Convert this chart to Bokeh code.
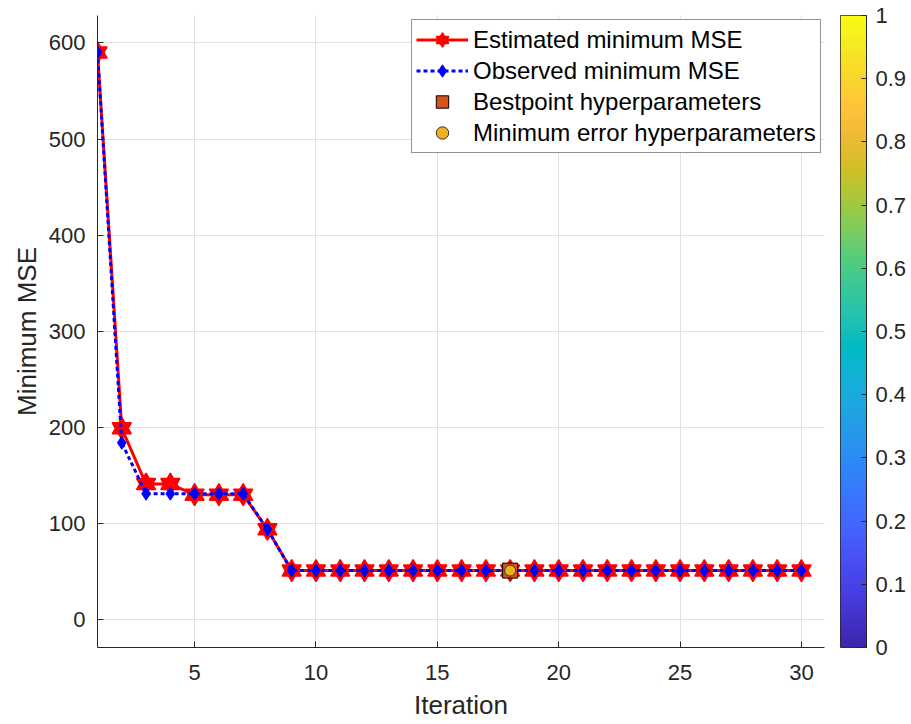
import numpy as np
from bokeh.plotting import figure
from bokeh.layouts import row
from bokeh.models import Range1d, FixedTicker, Legend, LegendItem, LinearColorMapper
from bokeh.embed import file_html
from bokeh.resources import INLINE

# ---------------- data ----------------
iteration = [1, 2, 3, 4, 5, 6, 7, 8, 9, 10, 11, 12, 13, 14, 15,
             16, 17, 18, 19, 20, 21, 22, 23, 24, 25, 26, 27, 28, 29, 30]
est_min = [590, 199, 141, 141, 130, 130, 130, 94, 51, 51, 51, 51, 51, 51, 51,
           51, 51, 51, 51, 51, 51, 51, 51, 51, 51, 51, 51, 51, 51, 51]
obs_min = [590, 184, 131, 131, 131, 131, 131, 94, 51, 51, 51, 51, 51, 51, 51,
           51, 51, 51, 51, 51, 51, 51, 51, 51, 51, 51, 51, 51, 51, 51]
best_iter = [18]
best_val = [51]
minerr_iter = [18]
minerr_val = [51]

x_ticks = [5, 10, 15, 20, 25, 30]
y_ticks = [0, 100, 200, 300, 400, 500, 600]
cbar_ticks = [0, 0.1, 0.2, 0.3, 0.4, 0.5, 0.6, 0.7, 0.8, 0.9, 1]
cbar_labels = ["0", "0.1", "0.2", "0.3", "0.4", "0.5", "0.6", "0.7", "0.8", "0.9", "1"]

labels = ["Estimated minimum MSE", "Observed minimum MSE",
          "Bestpoint hyperparameters", "Minimum error hyperparameters"]

# parula colormap anchors (every 3rd entry of the 64-colour table)
parula_anchors = [
    (0.2422, 0.1504, 0.6603), (0.2647, 0.1978, 0.7952), (0.2783, 0.2559, 0.8991),
    (0.2810, 0.3228, 0.9579), (0.2699, 0.3892, 0.9906), (0.2206, 0.4603, 0.9973),
    (0.1786, 0.5289, 0.9682), (0.1540, 0.5902, 0.9218), (0.1248, 0.6459, 0.8883),
    (0.0689, 0.6948, 0.8394), (0.0067, 0.7312, 0.7660), (0.1408, 0.7584, 0.6842),
    (0.2161, 0.7843, 0.5923), (0.3406, 0.8008, 0.4789), (0.5044, 0.7993, 0.3480),
    (0.6720, 0.7793, 0.2227), (0.8203, 0.7498, 0.1535), (0.9393, 0.7288, 0.2100),
    (0.9970, 0.7659, 0.2199), (0.9786, 0.8386, 0.1766), (0.9597, 0.9135, 0.1423),
    (0.9769, 0.9839, 0.0805)]

# ---------------- styling ----------------
FONT = "Liberation Sans"
TXT = "#262626"
GRID = "#e1e1e1"
H = 722
TOP = 15
BOTTOM = H - 648

anc = np.array(parula_anchors)
t_anc = np.linspace(0, 1, len(anc))
t = np.linspace(0, 1, 256)
parula = []
for v in t:
    r = np.interp(v, t_anc, anc[:, 0])
    g = np.interp(v, t_anc, anc[:, 1])
    b = np.interp(v, t_anc, anc[:, 2])
    parula.append("#%02x%02x%02x" % (int(round(r * 255)), int(round(g * 255)), int(round(b * 255))))

p = figure(width=834, height=H, x_range=Range1d(1, 30.95), y_range=Range1d(-29, 628.5),
           output_backend="svg", toolbar_location=None,
           min_border_left=97, min_border_right=10, min_border_top=TOP, min_border_bottom=BOTTOM)
p.outline_line_color = None
p.background_fill_color = "white"
p.border_fill_color = "white"

p.xaxis.ticker = FixedTicker(ticks=x_ticks)
p.yaxis.ticker = FixedTicker(ticks=y_ticks)
p.xaxis.axis_label = "Iteration"
p.yaxis.axis_label = "Minimum MSE"
for ax in (p.xaxis[0], p.yaxis[0]):
    ax.axis_line_color = TXT
    ax.axis_line_width = 1
    ax.major_tick_line_color = TXT
    ax.major_tick_in = 6
    ax.major_tick_out = 0
    ax.minor_tick_line_color = None
    ax.major_label_text_font = FONT
    ax.major_label_text_font_size = "22px"
    ax.major_label_text_color = TXT
    ax.axis_label_text_font = FONT
    ax.axis_label_text_font_size = "26px"
    ax.axis_label_text_font_style = "normal"
    ax.axis_label_text_color = TXT
p.xaxis.major_label_standoff = 17
p.xaxis.axis_label_standoff = 7
p.yaxis.major_label_standoff = 12
p.yaxis.axis_label_standoff = 4

p.xgrid.grid_line_color = GRID
p.ygrid.grid_line_color = GRID

r_line = p.line(iteration, est_min, line_color="red", line_width=3)
r_t1 = p.scatter(iteration, est_min, marker="triangle", size=19,
                 fill_color="red", line_color="red", line_width=1.5)
r_t2 = p.scatter(iteration, est_min, marker="inverted_triangle", size=19,
                 fill_color="red", line_color="red", line_width=1.5)
o_line = p.line(iteration, obs_min, line_color="blue", line_width=3, line_dash="4 3")
o_dia = p.scatter(iteration, obs_min, marker="diamond", size=13,
                  fill_color="blue", line_color="blue")
b_sq = p.scatter(best_iter, best_val, marker="square", size=15,
                 fill_color="#D95319", line_color="black", line_width=1)
m_ci = p.scatter(minerr_iter, minerr_val, marker="circle", size=11,
                 fill_color="#EDB120", line_color="#333333", line_width=1)

legend = Legend(items=[
    LegendItem(label=labels[0], renderers=[r_line, r_t1, r_t2]),
    LegendItem(label=labels[1], renderers=[o_line, o_dia]),
    LegendItem(label=labels[2], renderers=[b_sq]),
    LegendItem(label=labels[3], renderers=[m_ci]),
], location=(314, 494))
legend.label_text_font = FONT
legend.label_text_font_size = "24px"
legend.label_text_color = "black"
legend.glyph_width = 52
legend.glyph_height = 31
legend.label_height = 31
legend.label_standoff = 5
legend.padding = 4
legend.spacing = 0
legend.margin = 0
legend.border_line_color = TXT
legend.border_line_width = 1
legend.background_fill_color = "white"
legend.background_fill_alpha = 1
p.add_layout(legend)

# ---------------- colorbar ----------------
cb = figure(width=75, height=H, x_range=Range1d(0, 1), y_range=Range1d(0, 1),
            output_backend="svg", toolbar_location=None,
            y_axis_location="right", x_axis_location=None,
            min_border_left=6, min_border_right=42, min_border_top=TOP, min_border_bottom=BOTTOM)
grad = np.linspace(0, 1, 256).reshape(256, 1)
cb.image(image=[grad], x=0, y=0, dw=1, dh=1,
         color_mapper=LinearColorMapper(palette=parula, low=0, high=1))
cb.grid.visible = False
cb.outline_line_color = TXT
cb.outline_line_width = 1
cb.border_fill_color = "white"
ax = cb.yaxis[0]
ax.ticker = FixedTicker(ticks=cbar_ticks)
ax.major_label_overrides = dict(zip(cbar_ticks, cbar_labels))
ax.axis_line_color = TXT
ax.major_tick_line_color = TXT
ax.major_tick_in = 5
ax.major_tick_out = 0
ax.minor_tick_line_color = None
ax.major_label_text_font = FONT
ax.major_label_text_font_size = "22px"
ax.major_label_text_color = TXT
ax.major_label_standoff = 9

layout = row(p, cb)
open("out.html", "w").write(file_html(layout, INLINE))
